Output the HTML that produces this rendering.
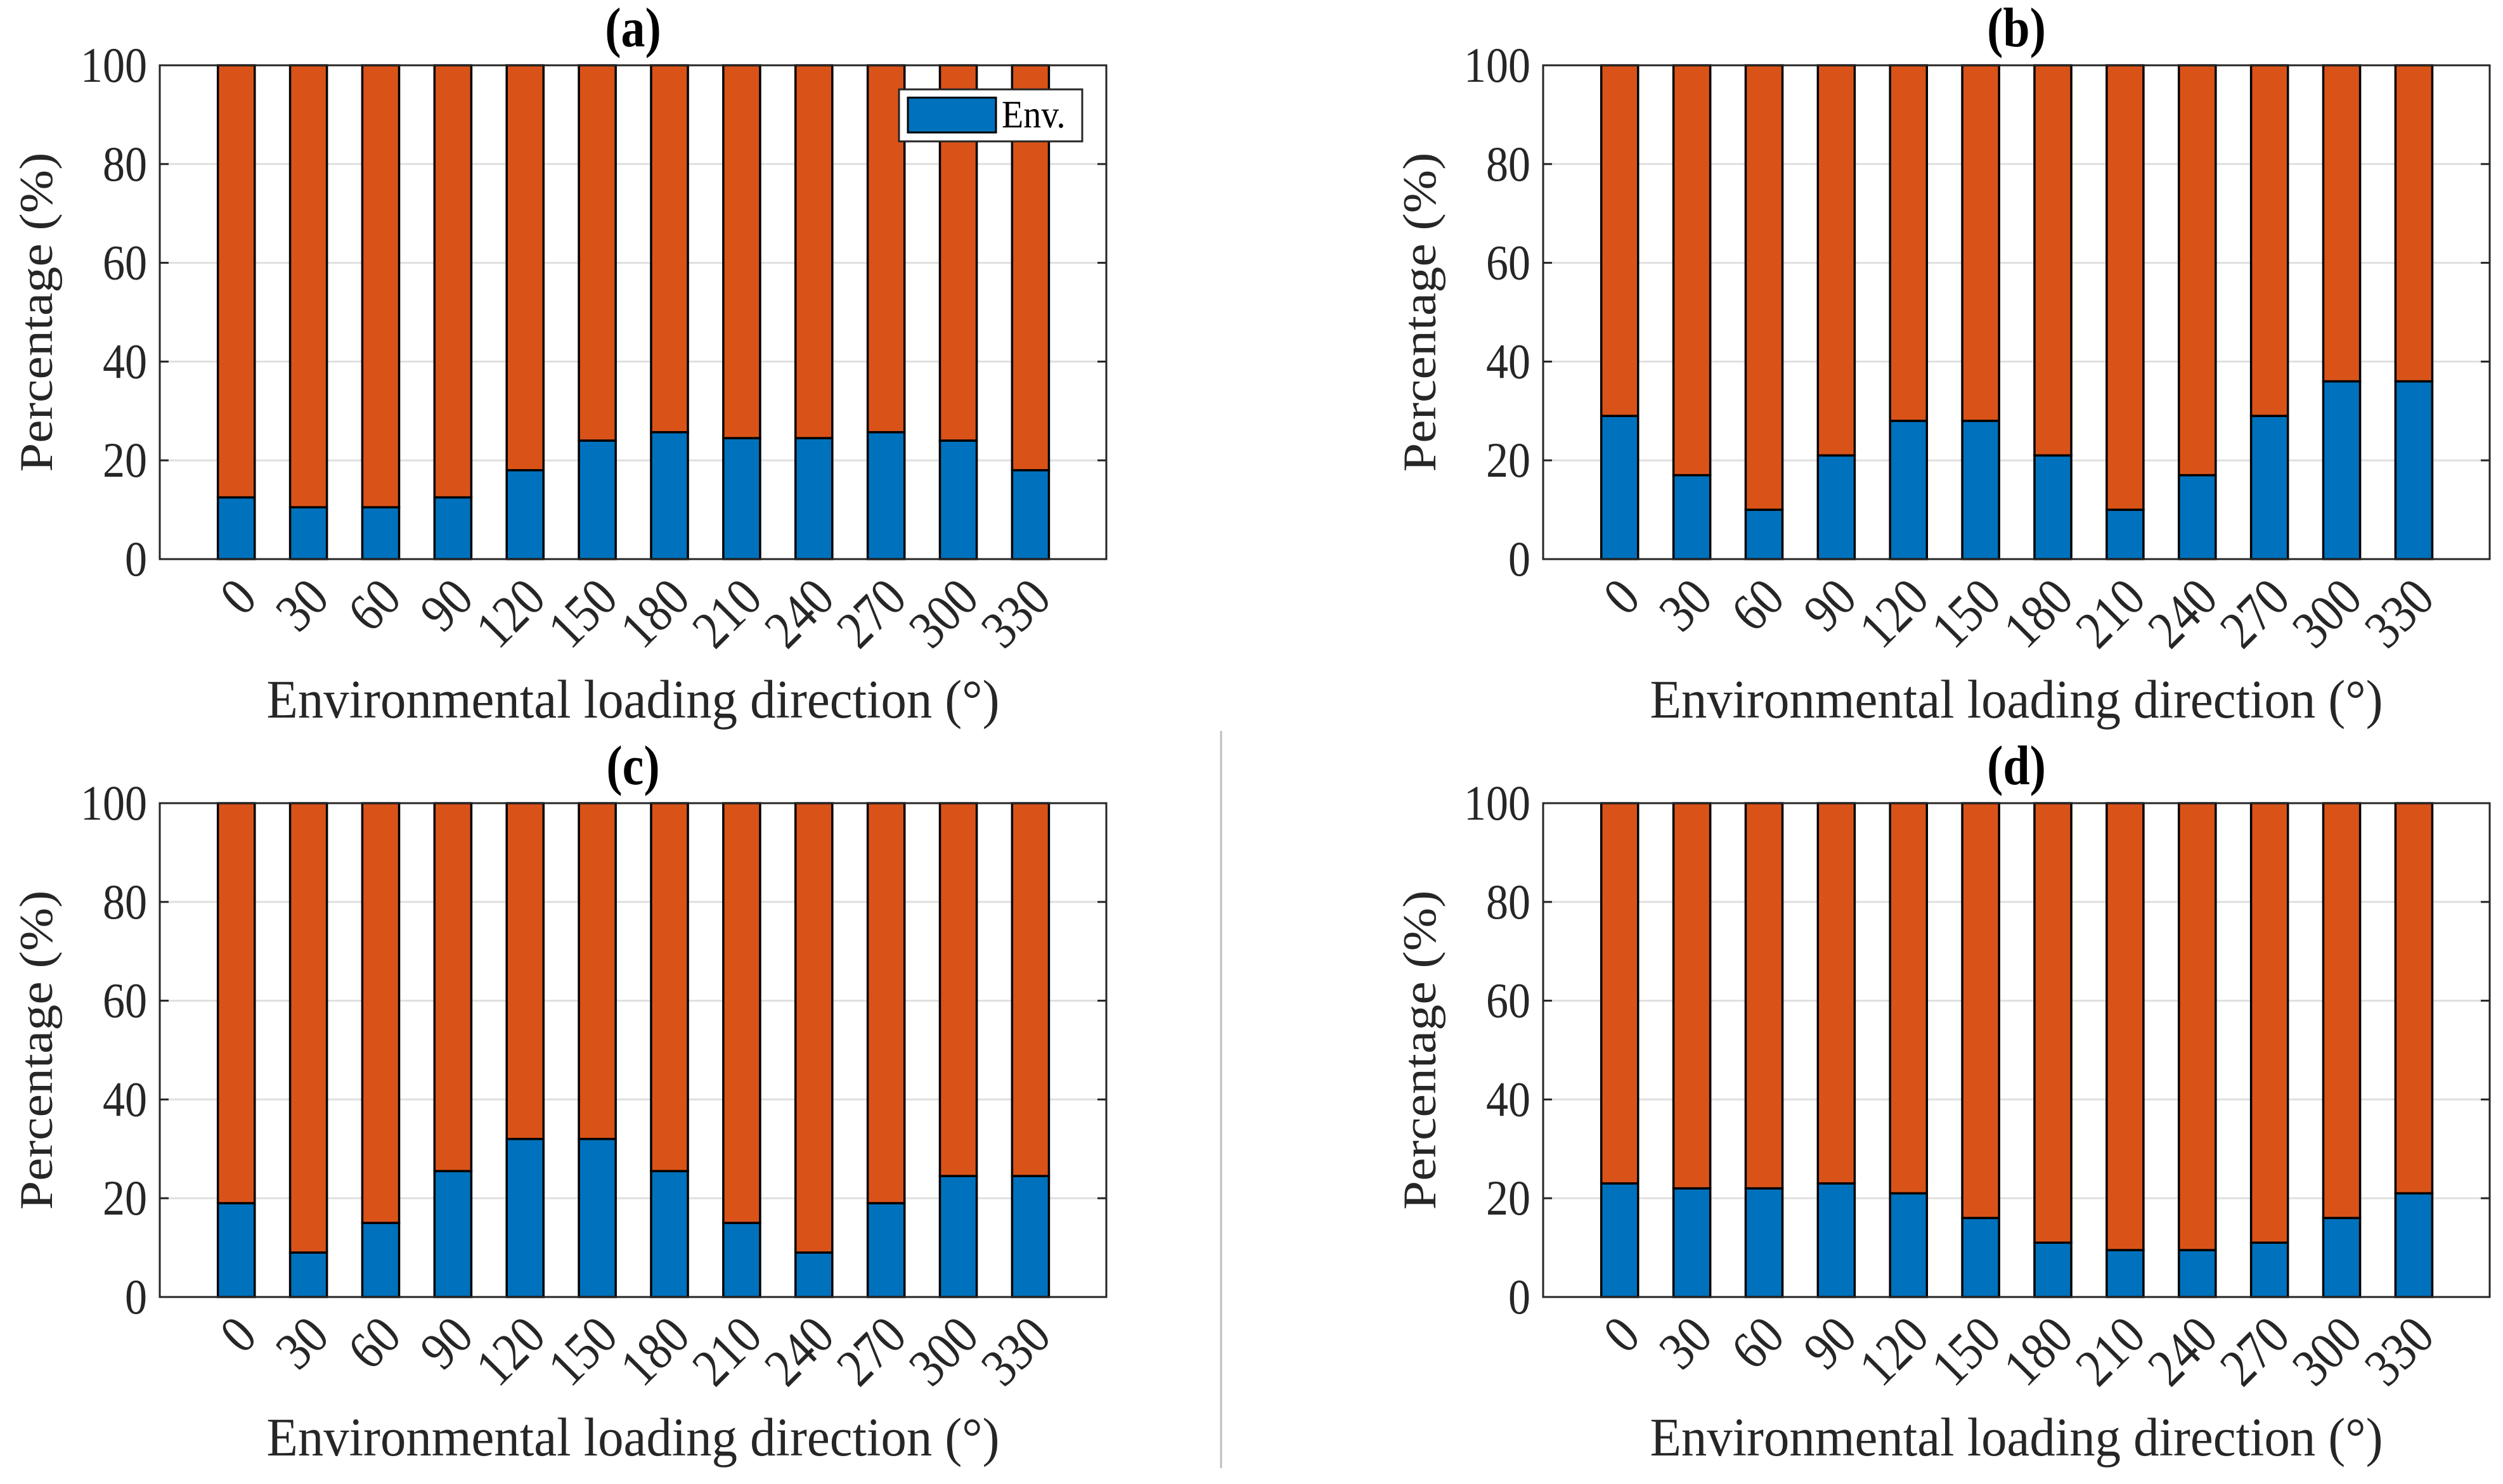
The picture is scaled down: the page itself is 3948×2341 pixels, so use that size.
<!DOCTYPE html>
<html><head><meta charset="utf-8"><style>
html,body{margin:0;padding:0;background:#fff;}
svg{display:block;font-family:"Liberation Serif","Times New Roman",serif;}
</style></head><body>
<svg id="fig" width="3948" height="2341" viewBox="0 0 3948 2341" xmlns="http://www.w3.org/2000/svg">
<line x1="1926" y1="1153" x2="1926" y2="2316" stroke="#bdbdbd" stroke-width="3"/>
</svg>
<script>
const categories = ["0","30","60","90","120","150","180","210","240","270","300","330"];
const envA = [12.5,10.5,10.5,12.5,18,24,25.7,24.5,24.5,25.7,24,18];
const envB = [29,17,10,21,28,28,21,10,17,29,36,36];
const envC = [19,9,15,25.5,32,32,25.5,15,9,19,24.5,24.5];
const envD = [23,22,22,23,21,16,11,9.5,9.5,11,16,21];
const yTicks = [0,20,40,60,80,100];
const panelTitles = ["(a)","(b)","(c)","(d)"];

const NS="http://www.w3.org/2000/svg";
const svg=document.getElementById('fig');
function mk(tag,attrs,parent){const e=document.createElementNS(NS,tag);for(const k in attrs)e.setAttribute(k,attrs[k]);(parent||svg).appendChild(e);return e;}

const panels=[
 {L:252,T:103,W:1493,H:779,data:envA,legend:true},
 {L:2434,T:103,W:1493,H:779,data:envB},
 {L:252,T:1267,W:1493,H:779,data:envC},
 {L:2434,T:1267,W:1493,H:779,data:envD}
];
const XMIN=-1.06, XMAX=12.05, BW=0.51;

panels.forEach((p,pi)=>{
  const g=mk('g',{});
  
  
  const xs=v=>p.L+(v-XMIN)/(XMAX-XMIN)*p.W;
  const ys=v=>p.T+p.H-(v/100)*p.H;
  yTicks.forEach(t=>{
    if(t>0&&t<100){const gl=mk('line',{x1:p.L,x2:p.L+p.W,y1:ys(t),y2:ys(t),stroke:'#dfdfdf','stroke-width':3},g);
    
    }
  });
  p.data.forEach((v,i)=>{
    const x0=xs(i-BW/2),x1=xs(i+BW/2);
    const b=mk('rect',{x:x0,y:ys(v),width:x1-x0,height:ys(0)-ys(v),fill:'#0072BD',stroke:'#000','stroke-width':3.5},g);
    
    
    const o=mk('rect',{x:x0,y:ys(100),width:x1-x0,height:ys(v)-ys(100),fill:'#D95319',stroke:'#000','stroke-width':3.5},g);
    
    
    const ax=xs(i)+36, ay=ys(0)+66;
    const tl=mk('text',{x:0,y:0,'font-size':74,fill:'#262626','text-anchor':'end',transform:`translate(${ax} ${ay}) rotate(-45) scale(1,1.15)`},g);
    tl.textContent=categories[i];
    
    
  });
  const box=mk('rect',{x:p.L,y:p.T,width:p.W,height:p.H,fill:'none',stroke:'#262626','stroke-width':3},g);
  
  
  yTicks.forEach(t=>{
    mk('line',{x1:p.L,x2:p.L+14,y1:ys(t),y2:ys(t),stroke:'#262626','stroke-width':3},g);
    mk('line',{x1:p.L+p.W-14,x2:p.L+p.W,y1:ys(t),y2:ys(t),stroke:'#262626','stroke-width':3},g);
    const yl=mk('text',{x:0,y:0,'font-size':70,fill:'#262626','text-anchor':'end',transform:`translate(${p.L-20} ${ys(t)+26}) scale(1,1.12)`},g);
    yl.textContent=t;
    
    
  });
  const tt=mk('text',{x:0,y:0,'font-size':76,'font-weight':'bold',fill:'#000','text-anchor':'middle',transform:`translate(${p.L+p.W/2} ${p.T-30}) scale(1,1.15)`},g);
  tt.textContent=panelTitles[pi];
  
  
  const xl=mk('text',{x:0,y:0,'font-size':78,fill:'#262626','text-anchor':'middle',textLength:1156,lengthAdjust:'spacingAndGlyphs',transform:`translate(${p.L+p.W/2} ${p.T+p.H+250}) scale(1,1.1)`},g);
  xl.textContent='Environmental loading direction (°)';
  
  
  const cy=p.T+p.H/2, cx=p.L-170;
  const yt=mk('text',{x:cx,y:cy,'font-size':74,fill:'#262626','text-anchor':'middle',textLength:504,lengthAdjust:'spacingAndGlyphs',transform:`rotate(-90 ${cx} ${cy})`},g);
  yt.textContent='Percentage (%)';
  
  
  if(p.legend){
    const lg=mk('g',{},g);
    
    
    mk('rect',{x:1418,y:141,width:289,height:82,fill:'#fff',stroke:'#262626','stroke-width':3},lg);
    const sw=mk('rect',{x:1432,y:154,width:139,height:55,fill:'#0072BD',stroke:'#000','stroke-width':3},lg);
    
    
    const lt=mk('text',{x:0,y:0,'font-size':56,fill:'#000',transform:'translate(1580 201) scale(1,1.1)'},lg);
    lt.textContent='Env.';
    
    
  }
});
</script>
</body></html>
